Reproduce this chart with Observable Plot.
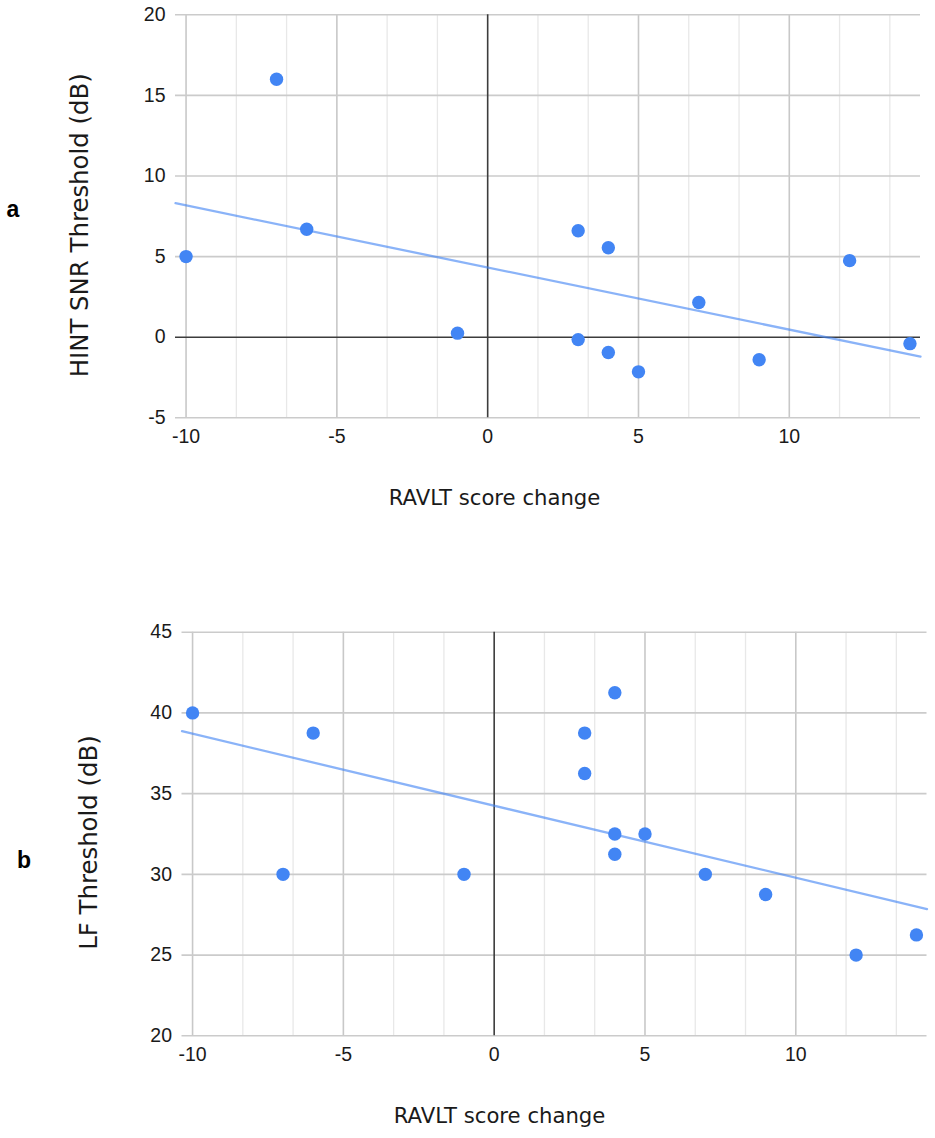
<!DOCTYPE html>
<html>
<head>
<meta charset="utf-8">
<script src="https://cdn.jsdelivr.net/npm/d3@7"></script>
<script src="https://cdn.jsdelivr.net/npm/@observablehq/plot@0.6"></script>
<style>
  html, body { margin: 0; padding: 0; background: #fff; }
  #wrap { position: relative; width: 935px; height: 1138px; overflow: hidden; }
  #wrap > div.chart { position: absolute; left: 0; }
  .panel { position: absolute; font-family: "Liberation Sans", Arial, sans-serif; font-weight: bold; font-size: 23px; color: #000; line-height: 1; }
</style>
</head>
<body>
<div id="wrap">
  <div class="chart" id="chartA" style="top:0px"></div>
  <div class="chart" id="chartB" style="top:580px"></div>
  <div class="panel" style="left:6.5px; top:197.5px">a</div>
  <div class="panel" style="left:17px; top:848.5px">b</div>
</div>
<script>
// ---- data (panel a) ----
const ravltA = [-10, -7, -6, -1, 3, 3, 4, 4, 5, 7, 9, 12, 14];
const hintSnr = [5, 16, 6.7, 0.25, 6.6, -0.15, 5.55, -0.95, -2.15, 2.15, -1.4, 4.75, -0.4];
// ---- data (panel b) ----
const ravltB = [-10, -7, -6, -1, 3, 3, 4, 4, 4, 5, 7, 9, 12, 14];
const lfThreshold = [40, 30, 38.75, 30, 38.75, 36.25, 41.25, 32.5, 31.25, 32.5, 30, 28.75, 25, 26.25];
// ---- axes ----
const xTicks = [-10, -5, 0, 5, 10];
const yTicksA = [-5, 0, 5, 10, 15, 20];
const yTicksB = [20, 25, 30, 35, 40, 45];
const xDomain = [-10.35, 14.35];
const xLabel = "RAVLT score change";
const yLabelA = "HINT SNR Threshold (dB)";
const yLabelB = "LF Threshold (dB)";

const BLUE = "#4285F4";
const tickFont = "'Liberation Sans', Arial, sans-serif";
const titleFont = "'DejaVu Sans', Verdana, sans-serif";
const fmt = d => String(d); // plain hyphen-minus like the reference

// minor x gridlines: thirds between major ticks
const minorX = d3.range(-15, 20, 5 / 3)
  .filter(v => v > xDomain[0] && v < xDomain[1])
  .filter(v => Math.abs(v / 5 - Math.round(v / 5)) > 1e-6);

function regression(xs, ys) {
  const mx = d3.mean(xs), my = d3.mean(ys);
  let sxy = 0, sxx = 0;
  xs.forEach((x, i) => { sxy += (x - mx) * (ys[i] - my); sxx += (x - mx) ** 2; });
  const b = sxy / sxx, a = my - b * mx;
  return xDomain.map(x => ({x, y: a + b * x}));
}

function makeChart({xs, ys, yTicks, height, mt, mb, ml, mr, yLabel, showZeroY, xTitleDx, xTitleDy, yTitleDx, yTitleDy}) {
  const data = xs.map((x, i) => ({x, y: ys[i]}));
  const yDomain = [d3.min(yTicks), d3.max(yTicks)];
  return Plot.plot({
    width: 935,
    height,
    marginTop: mt, marginBottom: mb, marginLeft: ml, marginRight: mr,
    style: {fontFamily: tickFont, fontSize: "19.5px", color: "#1a1a1a", background: "white", overflow: "visible"},
    x: {domain: xDomain, ticks: xTicks, tickFormat: fmt, tickSize: 0, tickPadding: 11, label: null},
    y: {domain: yDomain, ticks: yTicks, tickFormat: fmt, tickSize: 0, tickPadding: 10, label: null},
    marks: [
      Plot.ruleX(minorX, {stroke: "#e8e8e8", strokeWidth: 1.3}),
      Plot.ruleX(xTicks.filter(v => v !== 0), {stroke: "#c8c8c8", strokeWidth: 1.6}),
      Plot.ruleY(yTicks.filter(v => v !== 0), {stroke: "#cbcbcb", strokeWidth: 1.6}),
      showZeroY ? Plot.ruleY([0], {stroke: "#3c3c3c", strokeWidth: 1.6}) : null,
      Plot.ruleX([0], {stroke: "#3c3c3c", strokeWidth: 1.6}),
      Plot.line(regression(xs, ys), {x: "x", y: "y", stroke: BLUE, strokeOpacity: 0.62, strokeWidth: 2.3}),
      Plot.dot(data, {x: "x", y: "y", r: 6.7, fill: BLUE, stroke: "none"}),
      Plot.text([xLabel], {frameAnchor: "bottom", dx: xTitleDx, dy: xTitleDy, fontFamily: titleFont, fontSize: 21.2, fill: "#1a1a1a", textAnchor: "middle", lineAnchor: "middle"}),
      Plot.text([yLabel], {frameAnchor: "left", dx: yTitleDx, dy: yTitleDy, rotate: -90, fontFamily: titleFont, fontSize: 24.4, fill: "#1a1a1a", textAnchor: "middle", lineAnchor: "middle"})
    ].filter(Boolean)
  });
}

document.getElementById("chartA").appendChild(makeChart({
  xs: ravltA, ys: hintSnr, yTicks: yTicksA, height: 540,
  mt: 14.3, mb: 122.7, ml: 175, mr: 15, yLabel: yLabelA, showZeroY: true,
  xTitleDx: -53.5, xTitleDy: 80, yTitleDx: -95, yTitleDy: 9
}));
document.getElementById("chartB").appendChild(makeChart({
  xs: ravltB, ys: lfThreshold, yTicks: yTicksB, height: 558,
  mt: 51.7, mb: 102.7, ml: 181.5, mr: 8.5, yLabel: yLabelB, showZeroY: false,
  xTitleDx: -55, xTitleDy: 80, yTitleDx: -92.5, yTitleDy: 8.5
}));
</script>
</body>
</html>
